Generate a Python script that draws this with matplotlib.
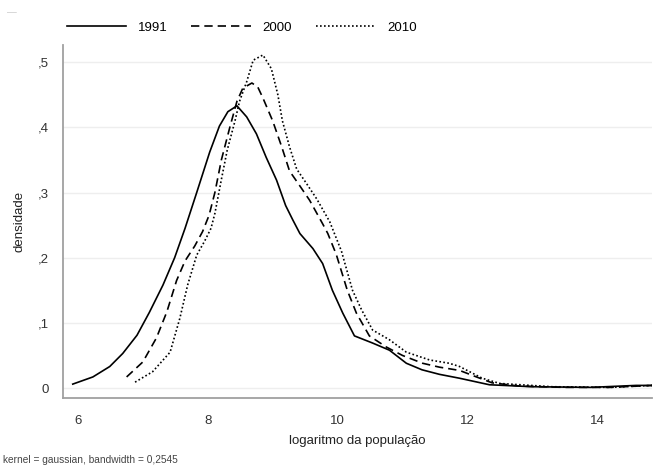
import matplotlib
matplotlib.use("Agg")
import matplotlib.pyplot as plt

plt.rcParams['font.family'] = ['Liberation Sans', 'DejaVu Sans']

# density curves (log of population vs density)
x_1991 = [5.92, 6.23, 6.49, 6.69, 6.91, 7.10, 7.31, 7.49, 7.65, 7.83, 8.03, 8.18,
          8.31, 8.45, 8.60, 8.75, 8.90, 9.06, 9.20, 9.31, 9.42, 9.62, 9.77, 9.92,
          10.08, 10.26, 10.54, 10.80, 11.06, 11.30, 11.57, 11.88, 12.34, 13.0,
          13.9, 14.6, 14.85]
y_1991 = [0.006, 0.017, 0.033, 0.053, 0.081, 0.116, 0.158, 0.200, 0.245, 0.300,
          0.362, 0.402, 0.424, 0.433, 0.416, 0.390, 0.354, 0.319, 0.280, 0.258,
          0.237, 0.214, 0.191, 0.150, 0.115, 0.080, 0.069, 0.058, 0.038, 0.028,
          0.021, 0.015, 0.005, 0.002, 0.001, 0.004, 0.004]

x_2000 = [6.75, 7.00, 7.21, 7.37, 7.52, 7.65, 7.80, 7.92, 8.02, 8.11, 8.21, 8.34,
          8.45, 8.54, 8.68, 8.77, 8.85, 9.00, 9.14, 9.26, 9.42, 9.57, 9.77, 9.85,
          9.98, 10.15, 10.29, 10.49, 10.75, 11.00, 11.31, 11.57, 11.88, 12.14,
          12.38, 12.8, 13.5, 14.2, 14.85]
y_2000 = [0.017, 0.040, 0.077, 0.117, 0.165, 0.195, 0.218, 0.240, 0.265, 0.300,
          0.350, 0.400, 0.440, 0.460, 0.468, 0.462, 0.445, 0.410, 0.370, 0.333,
          0.310, 0.288, 0.252, 0.237, 0.205, 0.150, 0.115, 0.080, 0.063, 0.050,
          0.038, 0.032, 0.027, 0.017, 0.008, 0.003, 0.001, 0.001, 0.004]

x_2010 = [6.88, 7.15, 7.42, 7.57, 7.69, 7.83, 7.95, 8.05, 8.11, 8.21, 8.30, 8.42,
          8.49, 8.60, 8.70, 8.85, 8.98, 9.08, 9.15, 9.26, 9.37, 9.52, 9.68, 9.88,
          10.06, 10.23, 10.37, 10.54, 10.80, 11.06, 11.42, 11.72, 11.88, 12.23,
          12.5, 13.3, 14.2, 14.85]
y_2010 = [0.009, 0.025, 0.055, 0.107, 0.158, 0.204, 0.225, 0.245, 0.268, 0.320,
          0.365, 0.410, 0.440, 0.470, 0.503, 0.511, 0.490, 0.450, 0.410, 0.370,
          0.336, 0.314, 0.290, 0.255, 0.210, 0.150, 0.120, 0.089, 0.074, 0.055,
          0.043, 0.038, 0.033, 0.015, 0.007, 0.002, 0.001, 0.004]

x_ticks = [6, 8, 10, 12, 14]
y_ticks = [0, 0.1, 0.2, 0.3, 0.4, 0.5]
y_tick_labels = ['0', ',1', ',2', ',3', ',4', ',5']

fig = plt.figure(figsize=(6.53, 4.71), dpi=100)
ax = fig.add_axes([0.0965, 0.155, 0.9025, 0.749])

ax.plot(x_1991, y_1991, color='black', lw=1.2, label='1991')
ax.plot(x_2000, y_2000, color='black', lw=1.2, linestyle=(0, (5, 3)), label='2000')
ax.plot(x_2010, y_2010, color='black', lw=1.2, linestyle=(0, (1, 1.4)), label='2010')

ax.set_xlim(5.77, 14.85)
ax.set_ylim(-0.0153, 0.526)
ax.set_xticks(x_ticks)
ax.set_yticks(y_ticks)
ax.set_yticklabels(y_tick_labels)
ax.tick_params(length=0, labelsize=9.5, labelcolor='#333333')
ax.tick_params(axis='x', pad=12)
ax.tick_params(axis='y', pad=10)
ax.grid(axis='y', color='#eeeeee', lw=1)
ax.set_axisbelow(True)
for side in ['top', 'right']:
    ax.spines[side].set_visible(False)
for side in ['left', 'bottom']:
    ax.spines[side].set_color('#a0a0a0')
    ax.spines[side].set_linewidth(1.3)

ax.set_xlabel('logaritmo da população', fontsize=9.5, color='#222222', labelpad=6)
ax.set_ylabel('densidade', fontsize=9.5, color='#222222', labelpad=9)

fig.legend(loc='center left', bbox_to_anchor=(0.102, 1 - 28 / 471), ncol=3,
           frameon=False, fontsize=9.5, handlelength=4.5, columnspacing=1.8,
           handletextpad=0.9, borderpad=0, borderaxespad=0)

fig.text(0.005, 0.016, 'kernel = gaussian, bandwidth = 0,2545', fontsize=7.3,
         color='#444444')
fig.text(0.01, 0.975, '—', fontsize=7, color='#cccccc', va='center')

fig.savefig('out.png', dpi=100)
